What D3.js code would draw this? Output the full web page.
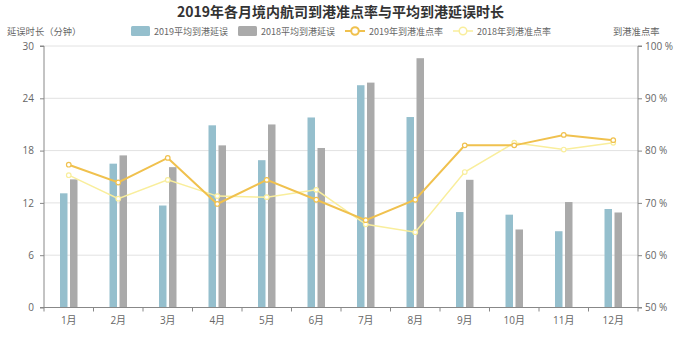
<!DOCTYPE html>
<html><head><meta charset="utf-8">
<script src="https://cdn.jsdelivr.net/npm/d3@7"></script>
<style>
body{margin:0;background:#fff;}
svg{display:block;font-family:"Noto Sans CJK SC","Open Sans",sans-serif;}
</style></head>
<body><svg id="c" width="681" height="355"></svg>
<script>
const months = ["1月","2月","3月","4月","5月","6月","7月","8月","9月","10月","11月","12月"];
const delay2019 = [13.1,16.5,11.7,20.9,16.9,21.8,25.5,21.85,10.95,10.65,8.75,11.3];
const delay2018 = [14.7,17.45,16.1,18.6,21.0,18.3,25.8,28.6,14.65,8.95,12.1,10.9];
const ontime2019 = [77.3,73.9,78.6,69.8,74.4,70.6,66.7,70.6,81.0,81.0,83.0,82.0];
const ontime2018 = [75.3,70.8,74.4,71.3,71.1,72.5,65.9,64.4,75.9,81.5,80.2,81.5];
const leftTicks = [0,6,12,18,24,30];
const rightTicks = [50,60,70,80,90,100];

const svg = d3.select("#c");
const L = 44, R = 638, T = 46, B = 307.5;
const C = {blue:"#95bfcd", gray:"#aaaaaa", l19:"#f0c14e", l18:"#f9ee9c", axis:"#888", text:"#666", grid:"#e2e2e2"};

const x = d3.scaleBand().domain(months).range([L,R]);
const yL = d3.scaleLinear().domain([0,30]).range([B,T]);
const yR = d3.scaleLinear().domain([50,100]).range([B,T]);

// title
svg.append("text").attr("x",340.5).attr("y",17).attr("text-anchor","middle")
  .attr("font-size",14).attr("font-weight","bold").attr("fill","#333")
  .text("2019年各月境内航司到港准点率与平均到港延误时长");

// axis titles
svg.append("text").attr("x",7).attr("y",35).attr("font-size",9.3).attr("fill",C.text).text("延误时长（分钟）");
svg.append("text").attr("x",613).attr("y",35).attr("font-size",9.3).attr("fill",C.text).text("到港准点率");

// legend
const lg = svg.append("g").attr("font-size",9).attr("fill",C.text);
lg.append("rect").attr("x",131).attr("y",26).attr("width",19).attr("height",10).attr("rx",1.5).attr("fill",C.blue);
lg.append("text").attr("x",154).attr("y",34.5).text("2019平均到港延误");
lg.append("rect").attr("x",238).attr("y",26).attr("width",19).attr("height",10).attr("rx",1.5).attr("fill",C.gray);
lg.append("text").attr("x",261).attr("y",34.5).text("2018平均到港延误");
[[345,C.l19,"2019年到港准点率",2],[453,C.l18,"2018年到港准点率",1.5]].forEach(([lx,col,t,w])=>{
  lg.append("line").attr("x1",lx).attr("x2",lx+20).attr("y1",31).attr("y2",31).attr("stroke",col).attr("stroke-width",w);
  lg.append("circle").attr("cx",lx+10).attr("cy",31).attr("r",3.8).attr("fill","#fff").attr("stroke",col).attr("stroke-width",w);
  lg.append("text").attr("x",lx+24).attr("y",34.5).text(t);
});

// grid
svg.append("g").selectAll("line").data(leftTicks.slice(1)).join("line")
  .attr("x1",L).attr("x2",R).attr("y1",d=>yL(d)).attr("y2",d=>yL(d))
  .attr("stroke",C.grid).attr("stroke-width",1);

// bars
const bw = 7.5, gap = 2.5;
svg.append("g").selectAll("rect").data(months).join("rect")
  .attr("x",d=>x(d)+x.bandwidth()/2 - gap/2 - bw).attr("width",bw)
  .attr("y",(d,i)=>yL(delay2019[i])).attr("height",(d,i)=>B-yL(delay2019[i]))
  .attr("fill",C.blue);
svg.append("g").selectAll("rect").data(months).join("rect")
  .attr("x",d=>x(d)+x.bandwidth()/2 + gap/2).attr("width",bw)
  .attr("y",(d,i)=>yL(delay2018[i])).attr("height",(d,i)=>B-yL(delay2018[i]))
  .attr("fill",C.gray);

// axes
const axL = svg.append("g").attr("transform",`translate(${L},0)`)
  .call(d3.axisLeft(yL).tickValues(leftTicks).tickSize(4).tickPadding(6));
const axR = svg.append("g").attr("transform",`translate(${R},0)`)
  .call(d3.axisRight(yR).tickValues(rightTicks).tickSize(4).tickPadding(3).tickFormat(d=>d+" %"));
const axB = svg.append("g").attr("transform",`translate(0,${B})`)
  .call(d3.axisBottom(x).tickSize(0).tickPadding(9));
axB.selectAll(".tick").append("line").attr("x1",-x.bandwidth()/2).attr("x2",-x.bandwidth()/2).attr("y1",0).attr("y2",4).attr("stroke",C.axis);
axB.append("line").attr("x1",R).attr("x2",R).attr("y1",0).attr("y2",4).attr("stroke",C.axis);
[axL,axR,axB].forEach(a=>{
  a.select(".domain").attr("stroke",C.axis);
  a.selectAll(".tick line").attr("stroke",C.axis);
  a.selectAll("text").attr("fill",C.text).attr("font-size",10).attr("font-family","'Open Sans','Noto Sans CJK SC',sans-serif");
});
axB.select(".domain").attr("d",`M${L},0H${R}`);
axL.select(".domain").attr("d",`M-4,${B}H0V${T}H-4`);
axR.select(".domain").attr("d",`M4,${B}H0V${T}H4`);

// lines
const cx = (d,i)=>x(months[i])+x.bandwidth()/2;
[[ontime2018,C.l18,1.5],[ontime2019,C.l19,2]].forEach(([arr,col,w])=>{
  const line = d3.line().x((d,i)=>cx(d,i)).y(d=>yR(d));
  svg.append("path").datum(arr).attr("d",line).attr("fill","none").attr("stroke",col).attr("stroke-width",w);
  svg.append("g").selectAll("circle").data(arr).join("circle")
    .attr("cx",cx).attr("cy",d=>yR(d)).attr("r",2.3)
    .attr("fill","#fff").attr("stroke",col).attr("stroke-width",1.2);
});
</script></body></html>
